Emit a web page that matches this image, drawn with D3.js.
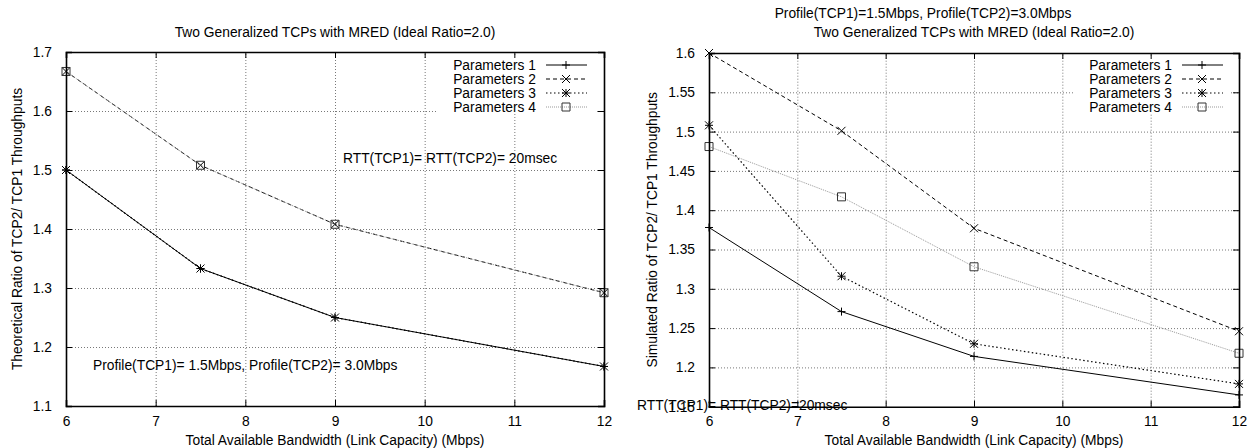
<!DOCTYPE html>
<html>
<head>
	<meta charset="utf-8">
	<title>Two Generalized TCPs with MRED</title>
	<script src="https://cdnjs.cloudflare.com/ajax/libs/d3/7.8.5/d3.min.js"></script>
	<style>
		body { margin: 0; background: #fff; }
		text { font-family: "Liberation Sans", Arial, sans-serif; font-size: 13.8px; fill: #000; }
	</style>
</head>
<body>
	<div id="chart"></div>
	<script type="text/javascript">
		// bandwidth values on the x axis
		var bandwidth = [6, 7.5, 9, 12];
		var seriesNames = ["Parameters 1", "Parameters 2", "Parameters 3", "Parameters 4"];

		// left panel: theoretical ratio (1 & 3 coincide, 2 & 4 coincide)
		var theoParams1 = [1.5, 1.333, 1.25, 1.167];
		var theoParams2 = [1.667, 1.508, 1.408, 1.292];
		var theoParams3 = [1.5, 1.333, 1.25, 1.167];
		var theoParams4 = [1.667, 1.508, 1.408, 1.292];

		// right panel: simulated ratio
		var simParams1 = [1.378, 1.271, 1.214, 1.165];
		var simParams2 = [1.6, 1.501, 1.377, 1.246];
		var simParams3 = [1.508, 1.316, 1.230, 1.179];
		var simParams4 = [1.481, 1.417, 1.328, 1.218];

		var xTicks = [6, 7, 8, 9, 10, 11, 12];
		var theoYTicks = [1.1, 1.2, 1.3, 1.4, 1.5, 1.6, 1.7];
		var simYTicks = [1.15, 1.2, 1.25, 1.3, 1.35, 1.4, 1.45, 1.5, 1.55, 1.6];

		var styles = [
			{ dash: null, stroke: "#000", width: 1, marker: "plus", mcolor: "#000" },
			{ dash: "4,3", stroke: "#000", width: 1, marker: "cross", mcolor: "#000" },
			{ dash: "1.5,2.5", stroke: "#000", width: 1.2, marker: "star", mcolor: "#000" },
			{ dash: "1,1", stroke: "#999", width: 1, marker: "box", mcolor: "#333" }
		];

		var svg = d3.select("#chart")
					.append("svg")
					.attr("width", 1248)
					.attr("height", 448);

		function markerPath(type) {
			var s = 4;
			var plus = "M" + (-s) + ",0H" + s + "M0," + (-s) + "V" + s;
			var cross = "M" + (-s) + "," + (-s) + "L" + s + "," + s + "M" + (-s) + "," + s + "L" + s + "," + (-s);
			if (type == "plus") return plus;
			if (type == "cross") return cross;
			if (type == "star") return plus + cross;
			return "M-4,-4H4V4H-4Z";
		}

		function drawPanel(opt) {
			var x = d3.scaleLinear().domain([6, 12]).range([opt.left, opt.right]);
			var y = d3.scaleLinear().domain(opt.yDomain).range([opt.bottom, opt.top]);
			var fmt = function(d) { return String(+d.toFixed(2)); };
			var g = svg.append("g");

			// grid
			g.append("g")
				.attr("class", "grid")
				.attr("transform", "translate(0," + opt.bottom + ")")
				.call(d3.axisBottom(x).tickValues(xTicks.slice(1, -1)).tickSize(-(opt.bottom - opt.top)).tickFormat(""));
			g.append("g")
				.attr("class", "grid")
				.attr("transform", "translate(" + opt.left + ",0)")
				.call(d3.axisLeft(y).tickValues(opt.yTicks.slice(1, -1)).tickSize(-(opt.right - opt.left)).tickFormat(""));
			g.selectAll(".grid .domain").remove();
			g.selectAll(".grid line")
				.attr("stroke", "#555")
				.attr("stroke-width", 0.8)
				.attr("stroke-dasharray", "1,2");

			// white legend background
			g.append("rect")
				.attr("x", opt.keyBox[0])
				.attr("y", opt.keyBox[1])
				.attr("width", opt.keyBox[2])
				.attr("height", opt.keyBox[3])
				.attr("fill", "#fff");

			// data
			var line = d3.line()
						.x(function(d, i) { return x(bandwidth[i]); })
						.y(function(d) { return y(d); });

			opt.series.forEach(function(vals, k) {
				var st = styles[k];
				g.append("path")
					.datum(vals)
					.attr("d", line)
					.attr("fill", "none")
					.attr("stroke", st.stroke)
					.attr("stroke-width", st.width)
					.attr("stroke-dasharray", st.dash);
				g.selectAll(".m" + k)
					.data(vals)
					.enter()
						.append("path")
						.attr("class", "m" + k)
						.attr("transform", function(d, i) { return "translate(" + x(bandwidth[i]) + "," + y(d) + ")"; })
						.attr("d", markerPath(st.marker))
						.attr("fill", "none")
						.attr("stroke", st.mcolor)
						.attr("stroke-width", 1);
			});

			// legend
			var key = g.append("g");
			seriesNames.forEach(function(name, k) {
				var st = styles[k];
				var ky = opt.keyTop + k * 14;
				key.append("text")
					.attr("x", opt.keyText)
					.attr("y", ky)
					.attr("dy", "0.35em")
					.attr("text-anchor", "end")
					.text(name);
				key.append("line")
					.attr("x1", opt.keyText + 10)
					.attr("x2", opt.keyText + 51)
					.attr("y1", ky)
					.attr("y2", ky)
					.attr("stroke", st.stroke)
					.attr("stroke-width", st.width)
					.attr("stroke-dasharray", st.dash);
				key.append("path")
					.attr("transform", "translate(" + (opt.keyText + 30) + "," + ky + ")")
					.attr("d", markerPath(st.marker))
					.attr("fill", "none")
					.attr("stroke", st.mcolor);
			});

			// axes with inward ticks on all sides
			var bottomAxis = g.append("g")
				.attr("transform", "translate(0," + opt.bottom + ")")
				.call(d3.axisBottom(x).tickValues(xTicks).tickSize(-6).tickPadding(10).tickFormat(d3.format("d")));
			var leftAxis = g.append("g")
				.attr("transform", "translate(" + opt.left + ",0)")
				.call(d3.axisLeft(y).tickValues(opt.yTicks).tickSize(-6).tickPadding(14).tickFormat(fmt));
			g.append("g")
				.attr("transform", "translate(0," + opt.top + ")")
				.call(d3.axisTop(x).tickValues(xTicks).tickSize(-6).tickFormat(""));
			g.append("g")
				.attr("transform", "translate(" + opt.right + ",0)")
				.call(d3.axisRight(y).tickValues(opt.yTicks).tickSize(-6).tickFormat(""));
			g.selectAll(".domain").attr("stroke", "#000").attr("stroke-width", 1.6);
			g.selectAll(".tick text")
				.attr("font-family", null)
				.attr("font-size", null);
			bottomAxis.selectAll("text").attr("dy", "0.71em");

			// titles and labels
			opt.titles.forEach(function(t) {
				g.append("text")
					.attr("x", t.x)
					.attr("y", t.y)
					.attr("text-anchor", "middle")
					.text(t.text);
			});
			g.append("text")
				.attr("x", (opt.left + opt.right) / 2)
				.attr("y", 445)
				.attr("text-anchor", "middle")
				.text("Total Available Bandwidth (Link Capacity) (Mbps)");
			g.append("text")
				.attr("transform", "translate(" + opt.yLabelX + "," + (opt.top + opt.bottom) / 2 + ") rotate(-90)")
				.attr("dy", "0.35em")
				.attr("text-anchor", "middle")
				.text(opt.yLabel);
			opt.notes.forEach(function(n) {
				g.append("text")
					.attr("x", n.x)
					.attr("y", n.y)
					.text(n.text);
			});
		}

		drawPanel({
			left: 66, right: 604, top: 52, bottom: 406,
			yDomain: [1.1, 1.7], yTicks: theoYTicks,
			series: [theoParams1, theoParams2, theoParams3, theoParams4],
			keyBox: [437, 55, 160, 59], keyText: 536, keyTop: 65,
			titles: [{ x: 335, y: 37, text: "Two Generalized TCPs with MRED (Ideal Ratio=2.0)" }],
			yLabel: "Theoretical Ratio of TCP2/ TCP1 Throughputs", yLabelX: 17,
			notes: [
				{ x: 343, y: 163, text: "RTT(TCP1)= RTT(TCP2)= 20msec" },
				{ x: 93, y: 370, text: "Profile(TCP1)= 1.5Mbps, Profile(TCP2)= 3.0Mbps" }
			]
		});

		drawPanel({
			left: 709, right: 1239, top: 53, bottom: 406.7,
			yDomain: [1.15, 1.6], yTicks: simYTicks,
			series: [simParams1, simParams2, simParams3, simParams4],
			keyBox: [1073, 56, 158, 58], keyText: 1172, keyTop: 65,
			titles: [
				{ x: 923, y: 18, text: "Profile(TCP1)=1.5Mbps, Profile(TCP2)=3.0Mbps" },
				{ x: 974, y: 37, text: "Two Generalized TCPs with MRED (Ideal Ratio=2.0)" }
			],
			yLabel: "Simulated Ratio of TCP2/ TCP1 Throughputs", yLabelX: 652,
			notes: [
				{ x: 637, y: 410, text: "RTT(TCP1)= RTT(TCP2)=20msec" }
			]
		});
	</script>
</body>
</html>
